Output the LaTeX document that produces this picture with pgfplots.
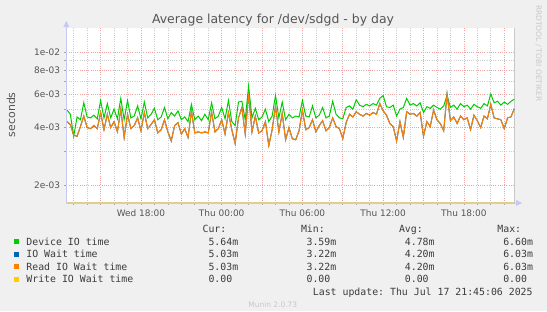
\documentclass[border=0pt]{standalone}
\usepackage{fontspec}
\setmainfont{DejaVu Sans}
\setmonofont{DejaVu Sans Mono}
\usepackage{pgfplots}
\pgfplotsset{compat=1.18}
\usepackage{pgfplotstable}

\definecolor{bgc}{RGB}{240,240,240}
\definecolor{devc}{RGB}{0,204,0}
\definecolor{iowc}{RGB}{0,102,179}
\definecolor{rdc}{RGB}{255,128,0}
\definecolor{wrc}{RGB}{255,204,0}
\definecolor{majgrid}{RGB}{238,165,165}
\definecolor{mingrid}{RGB}{205,205,205}
\definecolor{txt}{RGB}{85,85,85}
\definecolor{legtxt}{RGB}{60,60,60}
\definecolor{axc}{RGB}{200,200,245}
\definecolor{wm}{RGB}{200,200,200}
\definecolor{botc}{RGB}{225,205,140}

% values in milliseconds (axis labelled in seconds)
\pgfplotstableread{
h dev rd
-11.50 4.95 4.30
-11.25 4.70 4.15
-11.00 3.60 3.65
-10.75 4.55 3.60
-10.50 4.40 4.05
-10.25 5.40 4.60
-10.00 4.55 4.00
-9.75 4.50 3.95
-9.50 4.65 4.10
-9.25 4.45 3.95
-9.00 5.55 4.80
-8.75 4.50 3.90
-8.50 5.35 4.70
-8.25 4.50 4.00
-8.00 5.00 4.30
-7.75 4.45 3.80
-7.50 5.70 5.00
-7.25 4.40 3.55
-7.00 5.55 4.70
-6.75 4.50 3.95
-6.50 4.60 4.10
-6.25 5.20 4.50
-6.00 4.45 3.85
-5.75 5.45 4.80
-5.50 4.50 3.95
-5.25 4.70 4.15
-5.00 5.05 4.40
-4.75 4.40 3.75
-4.50 4.55 3.90
-4.25 5.10 4.40
-4.00 4.45 3.80
-3.75 4.80 3.40
-3.50 4.60 4.10
-3.25 4.90 4.25
-3.00 4.40 3.70
-2.75 4.55 3.95
-2.50 4.30 3.55
-2.25 5.30 4.90
-2.00 4.40 3.75
-1.75 4.60 3.80
-1.50 4.35 3.75
-1.25 4.70 3.80
-1.00 4.40 3.75
-0.75 5.40 4.85
-0.50 4.45 3.80
-0.25 4.60 3.95
0.00 5.10 4.40
0.25 4.45 3.70
0.50 5.55 4.80
0.75 4.30 3.90
1.00 4.10 3.30
1.25 5.45 4.50
1.50 5.50 5.10
1.75 4.40 3.70
2.00 6.60 6.03
2.25 4.50 3.80
2.50 5.05 4.60
2.75 4.40 3.75
3.00 4.55 3.85
3.25 5.00 4.30
3.50 4.30 3.22
3.75 4.60 3.90
4.00 5.90 5.20
4.25 4.50 3.80
4.50 5.45 4.75
4.75 4.40 3.45
5.00 4.70 4.00
5.25 4.50 3.50
5.50 4.60 3.45
5.75 4.55 3.85
6.00 5.55 4.95
6.25 4.60 3.90
6.50 4.55 4.00
6.75 5.20 4.40
7.00 4.50 3.80
7.25 4.65 4.10
7.50 5.10 4.35
7.75 4.50 3.85
8.00 4.60 4.00
8.25 5.50 4.50
8.50 4.70 4.05
8.75 4.50 3.95
9.00 4.45 3.50
9.25 5.10 4.25
9.50 5.20 4.70
9.75 5.00 4.55
10.00 5.60 4.85
10.25 5.25 4.70
10.50 5.15 4.60
10.75 5.30 4.75
11.00 5.20 4.65
11.25 5.35 4.80
11.50 5.25 4.70
11.75 5.70 5.35
12.00 5.90 4.90
12.25 5.15 4.65
12.50 5.10 4.20
12.75 5.25 4.05
13.00 4.60 3.40
13.25 5.00 4.30
13.50 5.10 3.55
13.75 5.70 4.85
14.00 5.25 4.70
14.25 5.35 4.75
14.50 5.20 4.60
14.75 5.40 4.80
15.00 4.80 3.60
15.25 5.15 4.30
15.50 5.05 4.05
15.75 5.25 4.95
16.00 5.10 4.40
16.25 5.00 4.20
16.50 5.20 3.85
16.75 5.90 6.00
17.00 5.10 4.35
17.25 5.25 4.55
17.50 5.00 4.20
17.75 5.35 4.60
18.00 5.15 4.40
18.25 5.25 4.50
18.50 5.00 3.90
18.75 5.30 4.65
19.00 5.15 4.35
19.25 5.05 4.00
19.50 5.35 4.60
19.75 5.20 4.45
20.00 6.00 5.30
20.25 5.40 4.50
20.50 5.50 4.45
20.75 5.25 4.40
21.00 5.45 3.95
21.25 5.30 4.50
21.50 5.50 4.55
21.75 5.64 5.03
}\lat

\newcommand\legfont{\ttfamily\fontsize{9.9}{10}\selectfont}

\begin{document}
\begin{tikzpicture}
\begin{scope}[x=1bp,y=1bp]
\fill[bgc] (0,0) rectangle (547,311);
\end{scope}
\begin{axis}[
  at={(66.3bp,108bp)}, anchor=south west, scale only axis,
  width=448bp, height=174.7bp,
  xmin=-11.55, xmax=21.75,
  ymode=log, ymin=1.607, ymax=13.3,
  axis background/.style={fill=white},
  axis line style={draw=none},
  xtick={-6,0,6,12,18},
  xticklabels={Wed 18:00, Thu 00:00, Thu 06:00, Thu 12:00, Thu 18:00},
  extra x ticks={-9,-3,3,9,15,21},
  extra x tick labels={},
  extra x tick style={grid=major},
  minor xtick={-11,-10,-8,-7,-5,-4,-2,-1,1,2,4,5,7,8,10,11,13,14,16,17,19,20},
  ytick={2,4,6,8,10},
  yticklabels={2e-03,4e-03,6e-03,8e-03,1e-02},
  minor ytick={3,5,7,9},
  grid=both,
  major grid style={majgrid, dash pattern=on 1bp off 1.2bp, line width=0.6bp},
  minor grid style={mingrid, dash pattern=on 1bp off 1.2bp, line width=0.6bp},
  tick align=outside, major tick length=2bp, minor tick length=2bp,
  tick style={color=gray!70, line width=0.6bp},
  xtick pos=bottom, ytick pos=left,
  ticklabel style={font=\fontsize{9}{9}\selectfont, text=txt},
  xticklabel style={anchor=north, inner sep=0pt, yshift=-4bp},
  yticklabel style={anchor=east, inner sep=0pt, xshift=-4bp},
  clip=true,
]
\addplot[devc, line width=1bp] table[x=h,y=dev]{\lat};
\addplot[iowc, line width=1bp] table[x=h,y=rd]{\lat};
\addplot[rdc, line width=1bp] table[x=h,y=rd]{\lat};
\draw[botc, line width=1.2bp] (rel axis cs:0,0) -- (rel axis cs:1,0);
\draw[gray, line width=1.3bp] (rel axis cs:1,0) -- (rel axis cs:1,1);
\end{axis}
\begin{scope}[x=1bp,y=1bp]
% axes arrows
\draw[axc, line width=0.8bp] (66.3,108) -- (66.3,285);
\fill[axc] (63.3,284) -- (69.3,284) -- (66.3,290) -- cycle;
\draw[axc, line width=0.8bp] (514.3,108) -- (517,108);
\fill[axc] (516,105) -- (516,111) -- (522,108) -- cycle;
% title and labels
\node[font=\fontsize{12.5}{12.5}\selectfont, text=txt] at (273,290.5) {Average latency for /dev/sdgd - by day};
\node[rotate=90, font=\fontsize{11}{11}\selectfont, text=txt] at (11,196.3) {seconds};
\node[rotate=-90, font=\fontsize{7.5}{7.5}\selectfont, text=wm] at (538.5,257.8) {RRDTOOL / TOBI OETIKER};
% legend
\begin{scope}[every node/.style={anchor=base west, inner sep=0pt, font=\legfont, text=legtxt}]
\node at (202.4,78.3) {Cur:};
\node at (300.8,78.3) {Min:};
\node at (398.8,78.3) {Avg:};
\node at (497.2,78.3) {Max:};
\fill[devc] (14,66.9) rectangle (19,71.9);
\node at (26.2,65.8) {Device IO time};
\node at (208.3,65.8) {5.64m};
\node at (306.4,65.8) {3.59m};
\node at (404.7,65.8) {4.78m};
\node at (503.1,65.8) {6.60m};
\fill[iowc] (14,54.4) rectangle (19,59.4);
\node at (26.2,53.3) {IO Wait time};
\node at (208.3,53.3) {5.03m};
\node at (306.4,53.3) {3.22m};
\node at (404.7,53.3) {4.20m};
\node at (503.1,53.3) {6.03m};
\fill[rdc] (14,41.9) rectangle (19,46.9);
\node at (26.2,40.8) {Read IO Wait time};
\node at (208.3,40.8) {5.03m};
\node at (306.4,40.8) {3.22m};
\node at (404.7,40.8) {4.20m};
\node at (503.1,40.8) {6.03m};
\fill[wrc] (14,29.4) rectangle (19,34.4);
\node at (26.2,28.3) {Write IO Wait time};
\node at (208.3,28.3) {0.00};
\node at (306.4,28.3) {0.00};
\node at (404.7,28.3) {0.00};
\node at (503.1,28.3) {0.00};
\end{scope}
\node[anchor=base east, inner sep=0pt, font=\legfont, text=legtxt] at (532.8,15.8) {Last update: Thu Jul 17 21:45:06 2025};
\node[font=\fontsize{7.5}{7.5}\selectfont, text=wm] at (272.8,6.1) {Munin 2.0.73};
\pgfresetboundingbox
\path[use as bounding box] (0,0) rectangle (547,311);
\end{scope}
\end{tikzpicture}
\end{document}
